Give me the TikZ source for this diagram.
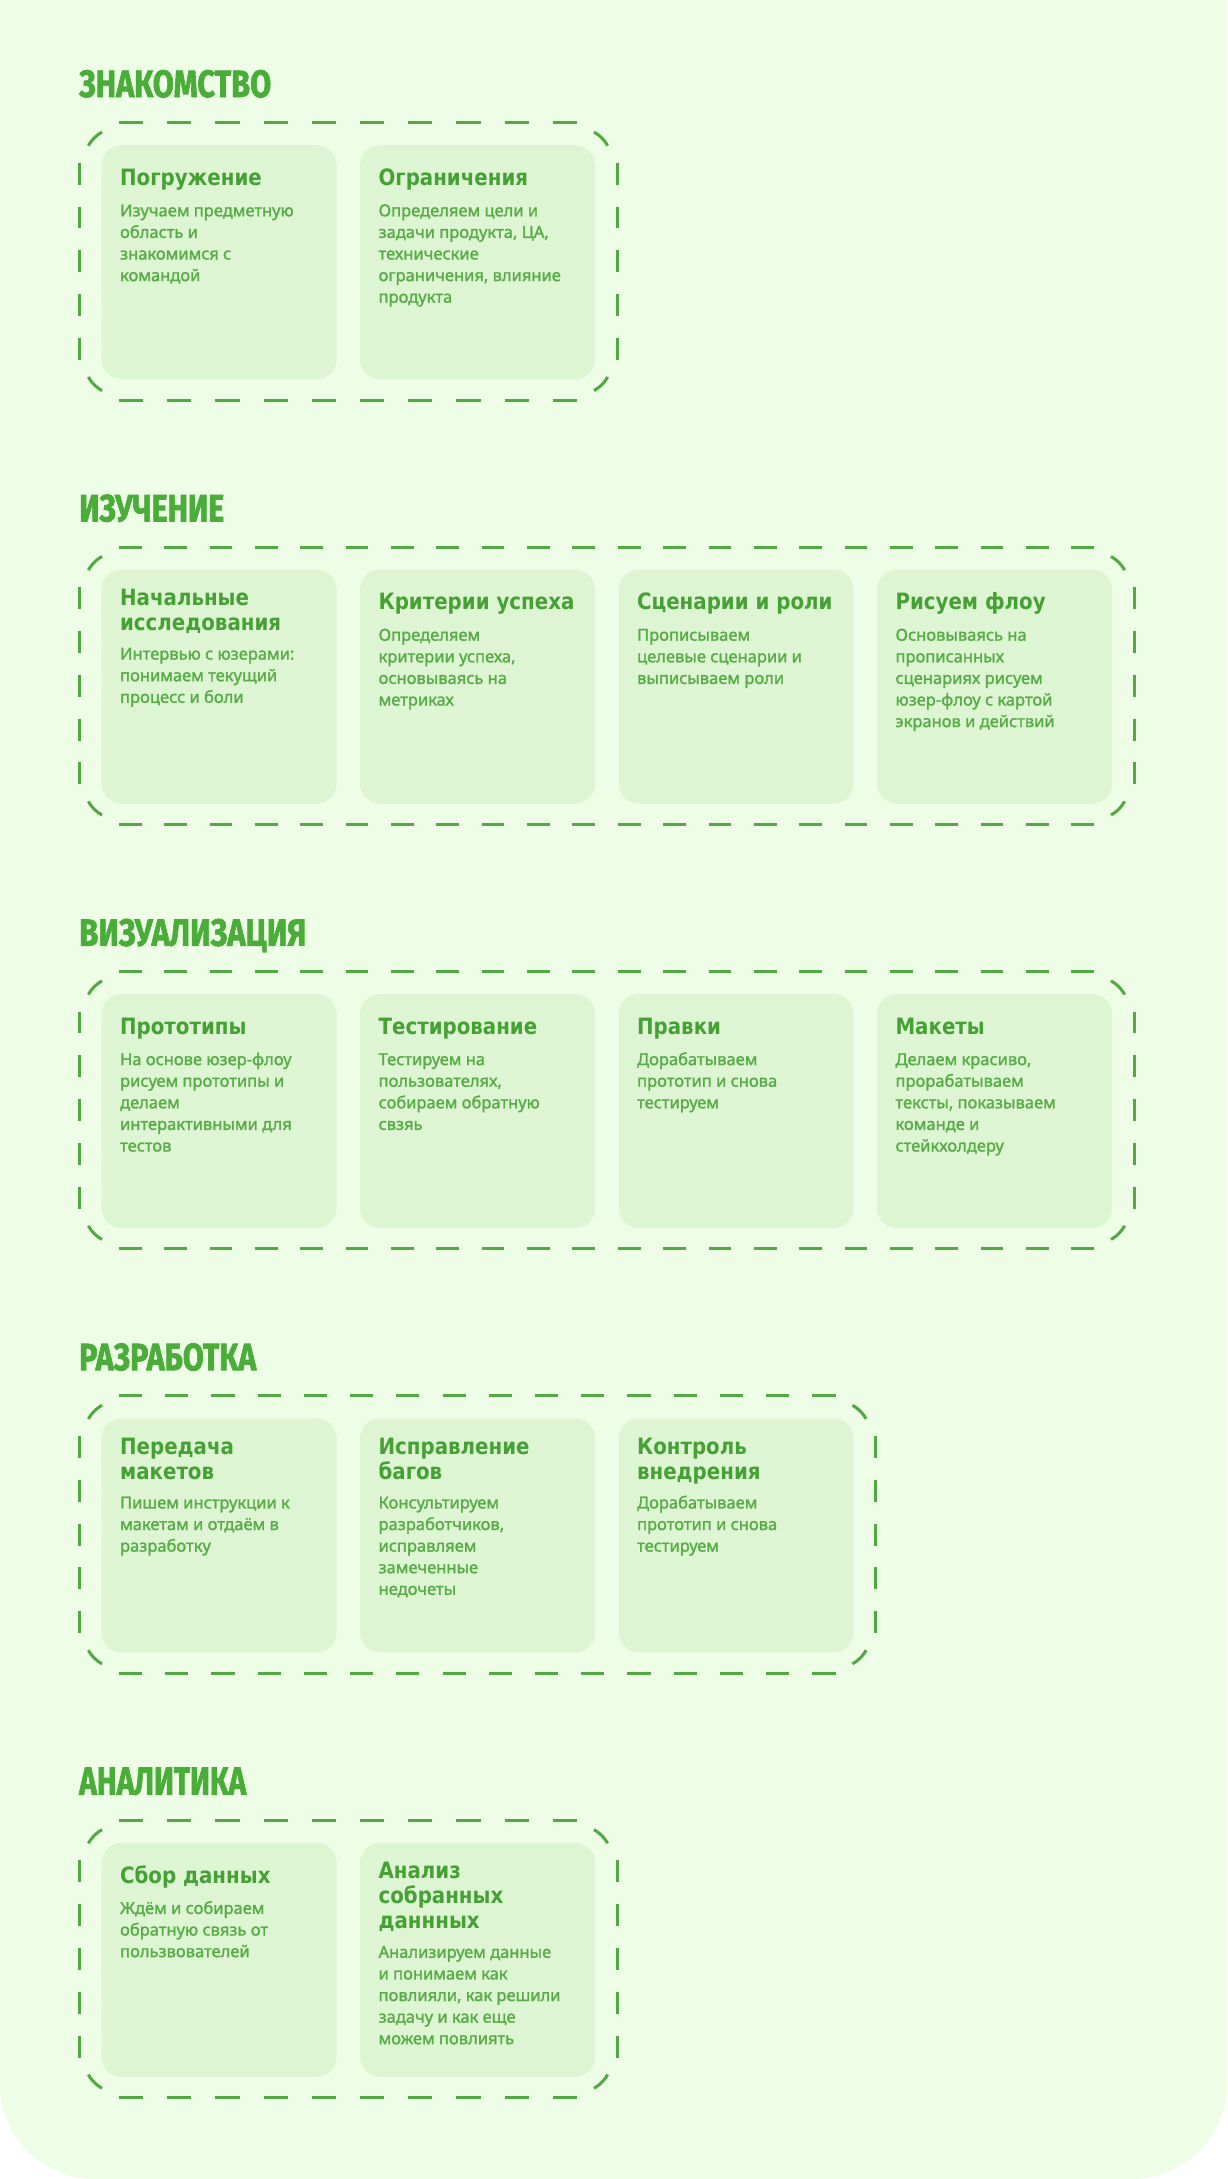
\documentclass[tikz,border=0pt]{standalone}
\usepackage{fontspec}
\usepackage{graphicx}
\setmainfont{Noto Sans}
\newfontfamily\headfont{Fira Sans}[FakeBold=2]
\newfontfamily\titlefont{DejaVu Sans}[FakeStretch=0.88]
\newfontfamily\bodyfont{Noto Sans}[FakeBold=1.6]
\definecolor{bgc}{HTML}{EDFDE6}
\definecolor{cardc}{HTML}{DDF5D3}
\definecolor{headc}{HTML}{4BAD39}
\definecolor{titlec}{HTML}{46A135}
\definecolor{bodyc}{HTML}{58AC46}
\definecolor{framec}{HTML}{52A842}
\tikzset{
  cardbox/.style={fill=cardc, rounded corners=20pt, minimum width=235pt, minimum height=234pt, inner sep=0pt, draw=none, anchor=north west},
  frame/.style={draw=framec, line width=3pt},
  ttl/.style={text=titlec, anchor=base west, inner sep=0pt, font=\titlefont\bfseries\fontsize{22.5}{25}\selectfont},
  bdy/.style={text=bodyc, anchor=base west, inner sep=0pt, font=\bodyfont\fontsize{16.5}{21.6}\selectfont},
  head/.style={text=headc, anchor=base west, inner sep=0pt},
}
\newcommand{\mkcard}[6]{%
  \node[cardbox] (#1) at (#2,#3) {};
  \pgfmathsetmacro{\tb}{#4==1 ? 40.5 : 36}
  \pgfmathsetmacro{\bb}{\tb+25*(#4-1)+(#4==1 ? 30.8 : 29.2)}
  \foreach \l [count=\i] in {#5} {\node[ttl] (#1-t\i) at ({#2+18.5},{#3+\tb+25*(\i-1)}) {\l};}
  \foreach \l [count=\i] in {#6} {\node[bdy] (#1-b\i) at ({#2+18.5},{#3+\bb+21.6*(\i-1)}) {\l};}
}
\newcommand{\mkframe}[5]{%
  \coordinate (#1-nw) at (#2,#3);
  \coordinate (#1-se) at (#4,#5);
  \pgfmathsetmacro{\Lh}{#4-#2-80}
  \pgfmathsetmacro{\Nh}{floor(\Lh/46)+1}
  \pgfmathsetmacro{\Dh}{\Lh/(2*\Nh-1)}
  \pgfmathsetmacro{\Lv}{#5-#3-80}
  \pgfmathsetmacro{\Nv}{floor(\Lv/44)+1}
  \pgfmathsetmacro{\Dv}{\Lv/(2*\Nv-1)}
  \draw[frame, dash pattern=on \Dh pt off \Dh pt] ({#2+40},#3) -- ({#4-40},#3);
  \draw[frame, dash pattern=on \Dh pt off \Dh pt] ({#2+40},#5) -- ({#4-40},#5);
  \draw[frame, dash pattern=on \Dv pt off \Dv pt] (#2,{#3+40}) -- (#2,{#5-40});
  \draw[frame, dash pattern=on \Dv pt off \Dv pt] (#4,{#3+40}) -- (#4,{#5-40});
  \draw[frame] plot[domain=209:241, samples=12] ({#2+40+35*cos(\x)},{#3+40+35*sin(\x)});
  \draw[frame] plot[domain=299:331, samples=12] ({#4-40+35*cos(\x)},{#3+40+35*sin(\x)});
  \draw[frame] plot[domain=29:61, samples=12] ({#4-40+35*cos(\x)},{#5-40+35*sin(\x)});
  \draw[frame] plot[domain=119:151, samples=12] ({#2+40+35*cos(\x)},{#5-40+35*sin(\x)});
}
\begin{document}
\begin{tikzpicture}[x=1pt,y=-1pt]
\useasboundingbox (0,0) rectangle (1227,2179);
\fill[white] (0,0) rectangle (1227,2179);
\fill[bgc] (0,0) -- (1227,0) -- (1227,2084) arc[start angle=0, end angle=90, radius=95] -- (95,2179) arc[start angle=90, end angle=180, radius=95] -- cycle;

% Section 1
\node[head] (h1) at (79,97) {\resizebox{192pt}{27pt}{\headfont\bfseries ЗНАКОМСТВО}};
\mkframe{f1}{79}{122.7}{617}{400}
\mkcard{c11}{101.4}{145}{1}{Погружение}{Изучаем предметную, область и, знакомимся с, командой}
\mkcard{c12}{359.9}{145}{1}{Ограничения}{Определяем цели и, {задачи продукта, ЦА,}, технические, {ограничения, влияние}, продукта}

% Section 2
\node[head] (h2) at (79,521.4) {\resizebox{145pt}{27pt}{\headfont\bfseries ИЗУЧЕНИЕ}};
\mkframe{f2}{79}{547.1}{1134}{824.4}
\mkcard{c21}{101.4}{569.4}{2}{Начальные, исследования}{Интервью с юзерами:, понимаем текущий, процесс и боли}
\mkcard{c22}{359.9}{569.4}{1}{Критерии успеха}{Определяем, {критерии успеха,}, основываясь на, метриках}
\mkcard{c23}{618.4}{569.4}{1}{Сценарии и роли}{Прописываем, целевые сценарии и, выписываем роли}
\mkcard{c24}{876.8}{569.4}{1}{Рисуем флоу}{Основываясь на, прописанных, сценариях рисуем, юзер-флоу с картой, экранов и действий}

% Section 3
\node[head] (h3) at (79,945.8) {\resizebox{227pt}{27pt}{\headfont\bfseries ВИЗУАЛИЗАЦИЯ}};
\mkframe{f3}{79}{971.5}{1134}{1248.8}
\mkcard{c31}{101.4}{993.8}{1}{Прототипы}{На основе юзер-флоу, рисуем прототипы и, делаем, интерактивными для, тестов}
\mkcard{c32}{359.9}{993.8}{1}{Тестирование}{Тестируем на, {пользователях,}, собираем обратную, свзяь}
\mkcard{c33}{618.4}{993.8}{1}{Правки}{Дорабатываем, прототип и снова, тестируем}
\mkcard{c34}{876.8}{993.8}{1}{Макеты}{{Делаем красиво,}, прорабатываем, {тексты, показываем}, команде и, стейкхолдеру}

% Section 4
\node[head] (h4) at (79,1370.2) {\resizebox{177pt}{27pt}{\headfont\bfseries РАЗРАБОТКА}};
\mkframe{f4}{79}{1395.9}{875.5}{1673.2}
\mkcard{c41}{101.4}{1418.2}{2}{Передача, макетов}{Пишем инструкции к, макетам и отдаём в, разработку}
\mkcard{c42}{359.9}{1418.2}{2}{Исправление, багов}{Консультируем, {разработчиков,}, исправляем, замеченные, недочеты}
\mkcard{c43}{618.4}{1418.2}{2}{Контроль, внедрения}{Дорабатываем, прототип и снова, тестируем}

% Section 5
\node[head] (h5) at (79,1794.6) {\resizebox{167pt}{27pt}{\headfont\bfseries АНАЛИТИКА}};
\mkframe{f5}{79}{1820.3}{617}{2097.6}
\mkcard{c51}{101.4}{1842.6}{1}{Сбор данных}{Ждём и собираем, обратную связь от, пользвователей}
\mkcard{c52}{359.9}{1842.6}{3}{Анализ, собранных, даннных}{Анализируем данные, и понимаем как, {повлияли, как решили}, задачу и как еще, можем повлиять}
\end{tikzpicture}
\end{document}
